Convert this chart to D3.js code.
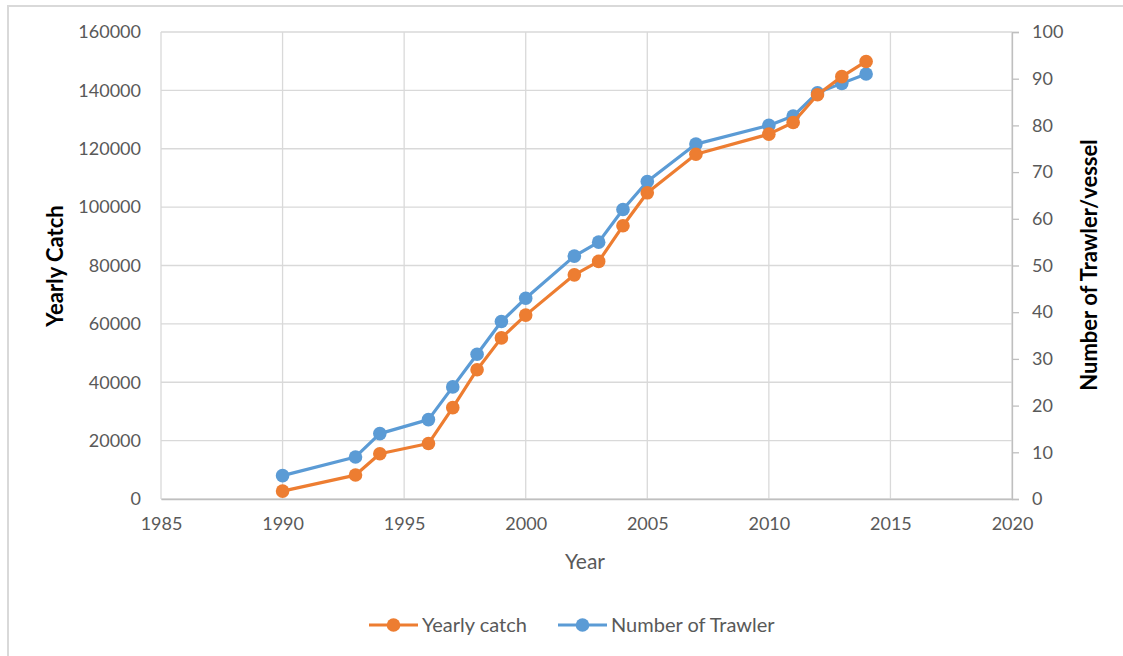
<!DOCTYPE html>
<html>
<head>
<meta charset="utf-8">
<script src="https://cdn.jsdelivr.net/npm/d3@7"></script>
<style>
  html, body { margin: 0; padding: 0; background: #fff; }
  svg { display: block; }
  text { font-family: Lato, "Open Sans", sans-serif; }
</style>
</head>
<body>
<svg id="chart" width="1123" height="656"></svg>
<script>
const years = [1990, 1993, 1994, 1996, 1997, 1998, 1999, 2000, 2002, 2003, 2004, 2005, 2007, 2010, 2011, 2012, 2013, 2014];
const yearlyCatch = [2700, 8200, 15500, 19000, 31300, 44300, 55200, 63000, 76800, 81400, 93600, 104900, 118100, 125000, 129000, 138500, 144700, 149900];
const trawlers = [5, 9, 14, 17, 24, 31, 38, 43, 52, 55, 62, 68, 76, 80, 82, 87, 89, 91];
const xTicks = [1985, 1990, 1995, 2000, 2005, 2010, 2015, 2020];
const leftTicks = [0, 20000, 40000, 60000, 80000, 100000, 120000, 140000, 160000];
const rightTicks = [0, 10, 20, 30, 40, 50, 60, 70, 80, 90, 100];
const seriesNames = ["Yearly catch", "Number of Trawler"];

const orange = "#ED7D31", blue = "#5B9BD5", grid = "#D9D9D9", txt = "#595959";
const svg = d3.select("#chart");

// frame
svg.append("rect").attr("x", 8).attr("y", 6).attr("width", 1130).attr("height", 670)
  .attr("fill", "#fff").attr("stroke", "#D9D9D9").attr("stroke-width", 2);

const x = d3.scaleLinear().domain([1985, 2020]).range([161, 1012]);
const yL = d3.scaleLinear().domain([0, 160000]).range([499, 32]);
const yR = d3.scaleLinear().domain([0, 100]).range([499, 32]);

// gridlines
svg.append("g").selectAll("line").data(leftTicks).join("line")
  .attr("x1", 161).attr("x2", 1012)
  .attr("y1", d => yL(d)).attr("y2", d => yL(d))
  .attr("stroke", grid).attr("stroke-width", 1.3);
svg.append("g").selectAll("line").data(xTicks).join("line")
  .attr("x1", d => x(d)).attr("x2", d => x(d))
  .attr("y1", 32).attr("y2", 499)
  .attr("stroke", grid).attr("stroke-width", 1.3);

// bottom axis
const xAxis = svg.append("g").attr("transform", "translate(0,499)")
  .call(d3.axisBottom(x).tickValues(xTicks).tickFormat(d3.format("d")).tickSize(0).tickPadding(18));
xAxis.select(".domain").attr("stroke", "#BFBFBF").attr("stroke-width", 1.5);
xAxis.selectAll("text").attr("fill", txt).attr("font-size", 18).style("font-family", "Lato, sans-serif");

// left axis
const lAxis = svg.append("g").attr("transform", "translate(161,0)")
  .call(d3.axisLeft(yL).tickValues(leftTicks).tickFormat(d3.format("d")).tickSize(0).tickPadding(20));
lAxis.select(".domain").remove();
lAxis.selectAll("text").attr("fill", txt).attr("font-size", 18).style("font-family", "Lato, sans-serif");

// right axis
const rAxis = svg.append("g").attr("transform", "translate(1012,0)")
  .call(d3.axisRight(yR).tickValues(rightTicks).tickSize(7).tickPadding(13));
rAxis.select(".domain").attr("stroke", "#BFBFBF").attr("stroke-width", 1.3);
rAxis.selectAll("line").attr("stroke", "#BFBFBF").attr("stroke-width", 1.3);
rAxis.selectAll("text").attr("fill", txt).attr("font-size", 18).style("font-family", "Lato, sans-serif");

// axis titles
svg.append("text").attr("transform", "translate(63,266) rotate(-90)")
  .attr("text-anchor", "middle").attr("font-size", 22).attr("font-weight", "bold")
  .attr("fill", "#000").text("Yearly Catch");
svg.append("text").attr("transform", "translate(1097,265) rotate(-90)")
  .attr("text-anchor", "middle").attr("font-size", 22).attr("font-weight", "bold")
  .attr("fill", "#000").text("Number of Trawler/vessel");
svg.append("text").attr("x", 585).attr("y", 569).attr("text-anchor", "middle")
  .attr("font-size", 21).attr("fill", txt).text("Year");

// series
const catchData = years.map((yr, i) => ({ x: yr, y: yearlyCatch[i] }));
const trawlData = years.map((yr, i) => ({ x: yr, y: trawlers[i] }));

function drawSeries(data, yScale, color) {
  const g = svg.append("g");
  g.append("path").datum(data)
    .attr("d", d3.line().x(d => x(d.x)).y(d => yScale(d.y)))
    .attr("fill", "none").attr("stroke", color).attr("stroke-width", 3.2)
    .attr("stroke-linejoin", "round");
  g.selectAll("circle").data(data).join("circle")
    .attr("cx", d => x(d.x)).attr("cy", d => yScale(d.y)).attr("r", 6.8)
    .attr("fill", color);
}
drawSeries(trawlData, yR, blue);
drawSeries(catchData, yL, orange);

// legend
const legend = [
  { name: seriesNames[0], color: orange, x0: 369 },
  { name: seriesNames[1], color: blue, x0: 558 }
];
const lg = svg.append("g");
legend.forEach(l => {
  lg.append("line").attr("x1", l.x0).attr("x2", l.x0 + 49).attr("y1", 625).attr("y2", 625)
    .attr("stroke", l.color).attr("stroke-width", 3.2);
  lg.append("circle").attr("cx", l.x0 + 24.5).attr("cy", 625).attr("r", 6.8).attr("fill", l.color);
  lg.append("text").attr("x", l.x0 + 53).attr("y", 632).attr("font-size", 20)
    .attr("fill", txt).text(l.name);
});
</script>
</body>
</html>
